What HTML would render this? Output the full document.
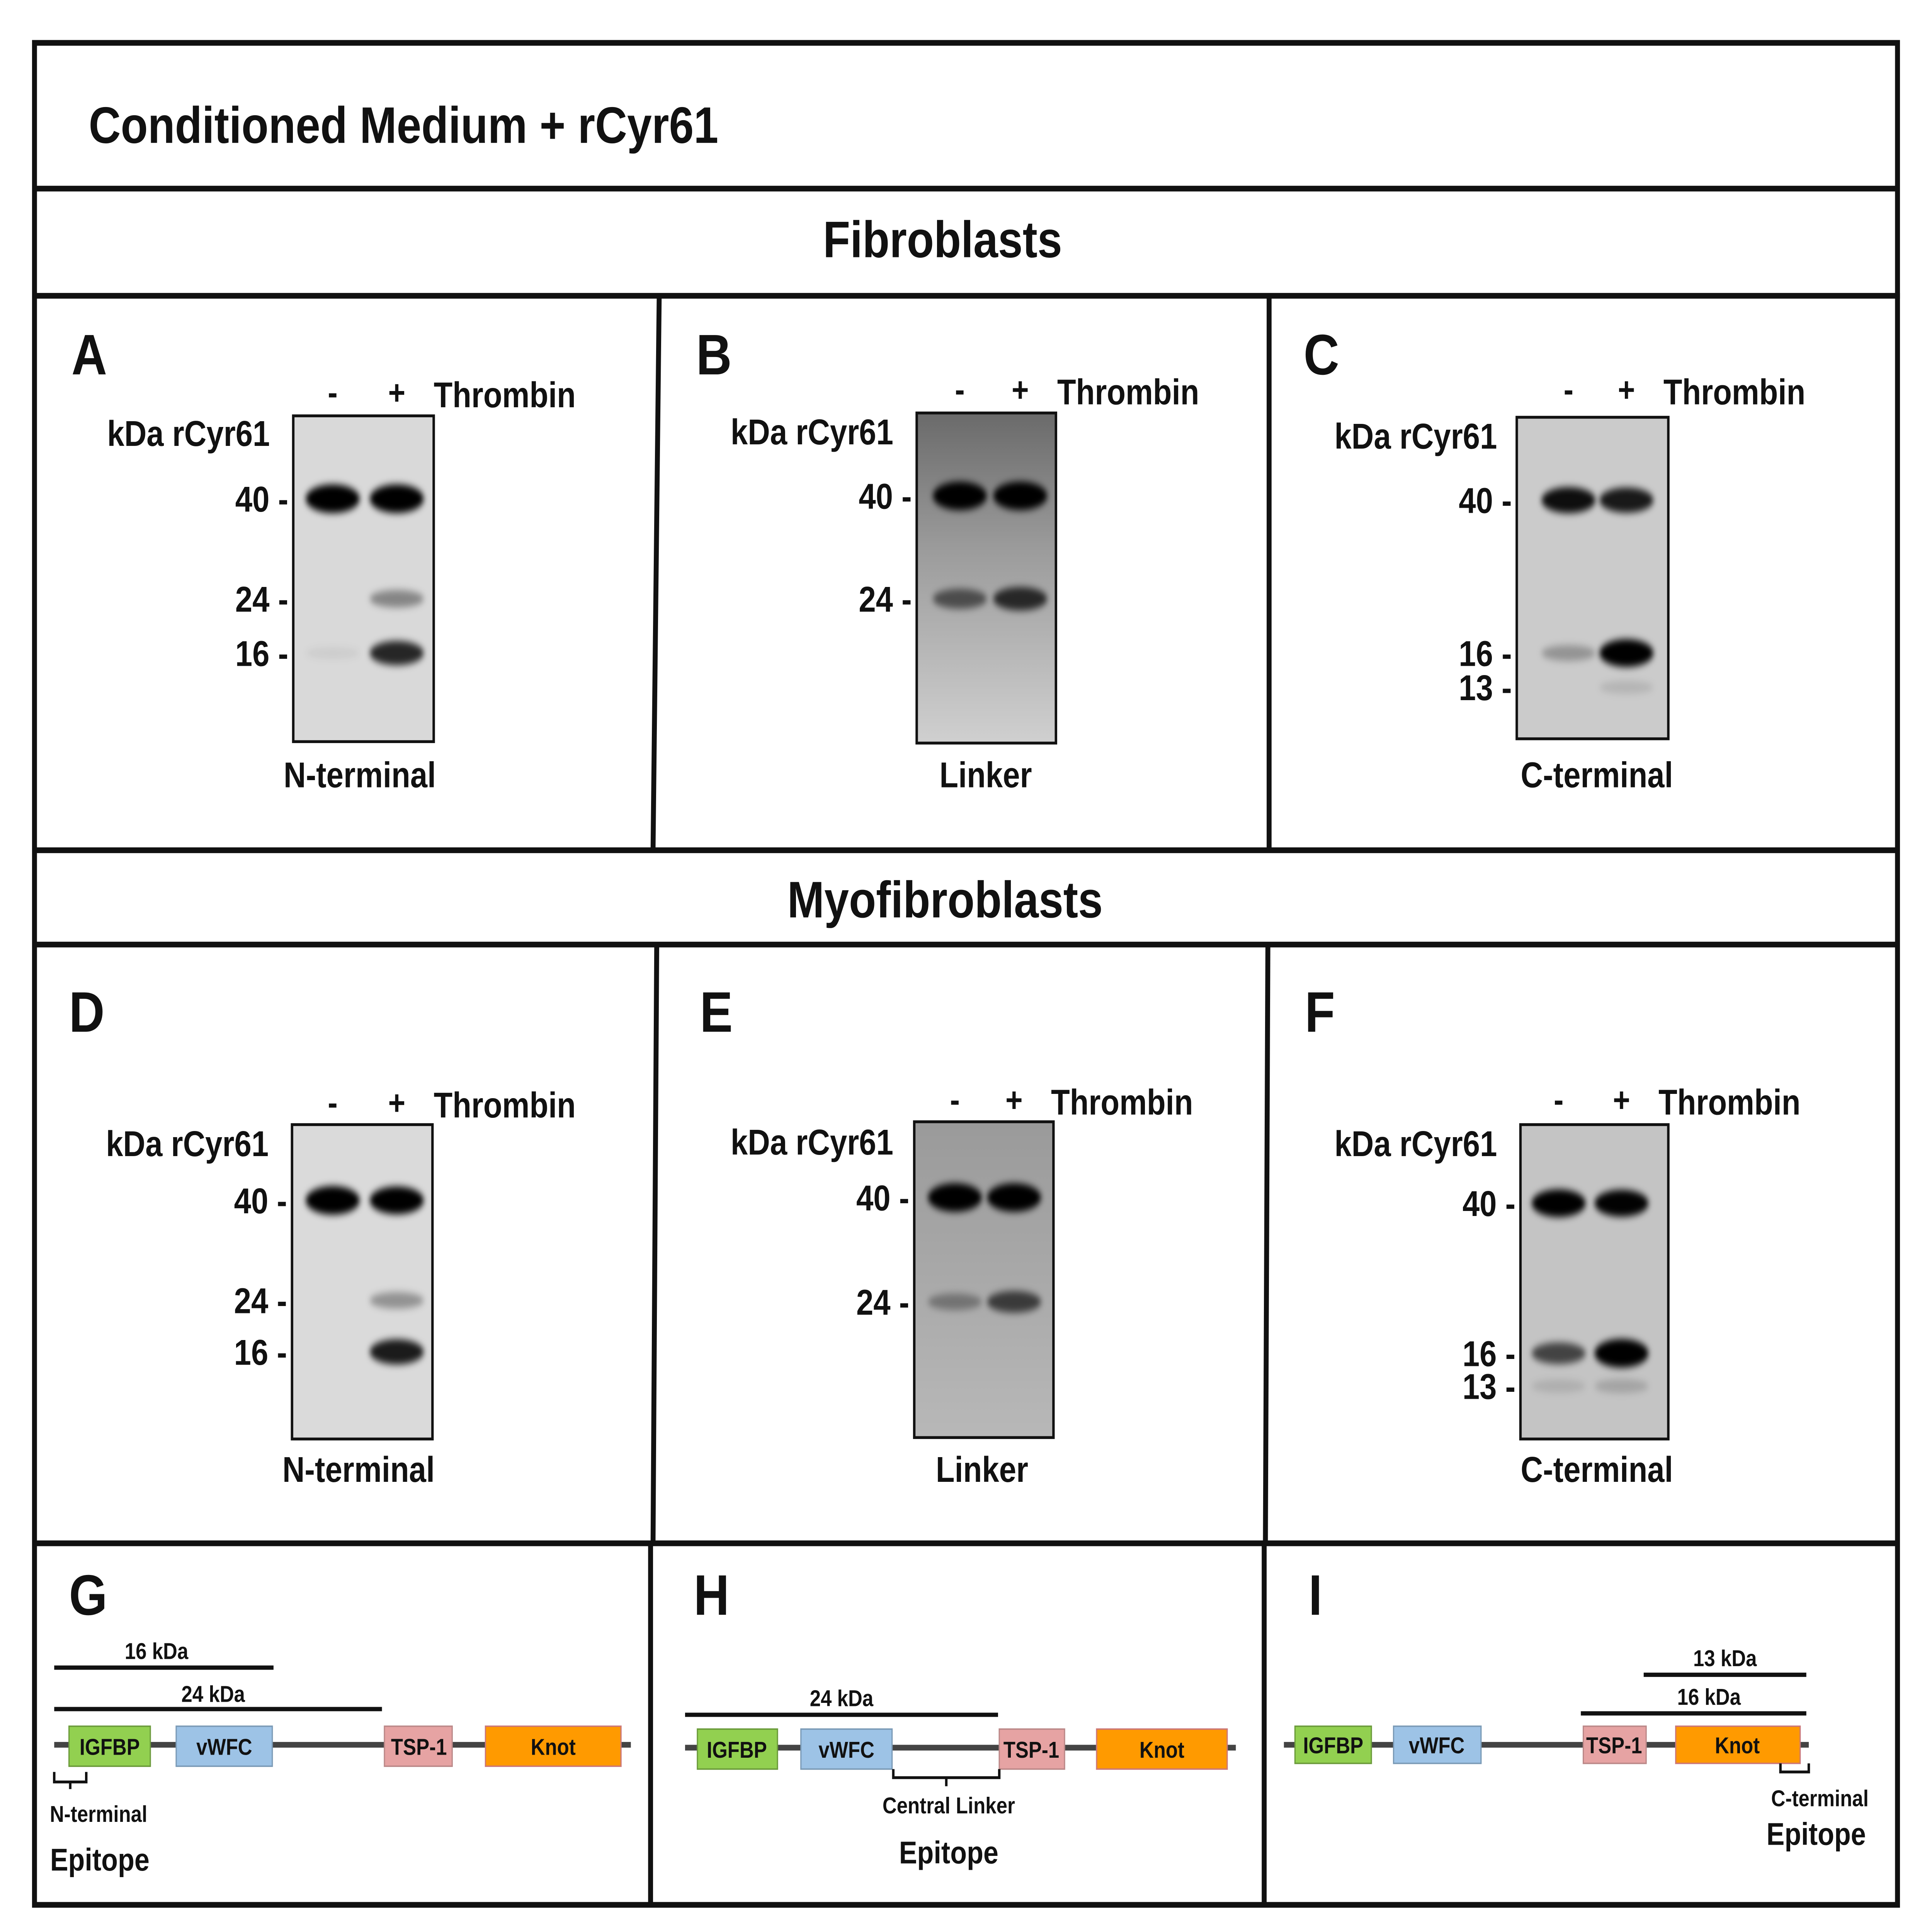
<!DOCTYPE html>
<html><head><meta charset="utf-8"><style>
html,body{margin:0;padding:0;background:#fff;overflow:hidden;width:100%;height:100%;}
svg{display:block;position:absolute;left:0;top:0;width:100vw;height:100vh;}
text{font-family:"Liberation Sans",sans-serif;font-weight:bold;fill:#111;}
</style></head><body>
<svg id="fig" viewBox="0 0 1568 1352" preserveAspectRatio="none" xmlns="http://www.w3.org/2000/svg">
<defs>
<filter id="blur" x="-50%" y="-200%" width="200%" height="500%"><feGaussianBlur stdDeviation="2.2 2.6"/></filter>
<linearGradient id="gelB" x1="0" y1="0" x2="0" y2="1"><stop offset="0" stop-color="#6a6a6a"/><stop offset="0.4" stop-color="#9a9a9a"/><stop offset="1" stop-color="#d0d0d0"/></linearGradient>
<linearGradient id="gelE" x1="0" y1="0" x2="0" y2="1"><stop offset="0" stop-color="#9a9a9a"/><stop offset="1" stop-color="#b8b8b8"/></linearGradient>
</defs>
<g fill="none" stroke="#111" stroke-width="4">
<rect x="28" y="30" width="1512" height="1303"/>
<line x1="28" y1="132" x2="1540" y2="132"/>
<line x1="28" y1="207" x2="1542" y2="207"/>
<line x1="28" y1="595" x2="1540" y2="595"/>
<line x1="28" y1="661" x2="1540" y2="661"/>
<line x1="28" y1="1080" x2="1540" y2="1080"/>
<line x1="535" y1="207" x2="530" y2="595"/>
<line x1="1030" y1="207" x2="1030" y2="595"/>
<line x1="533" y1="661" x2="530" y2="1080"/>
<line x1="1029" y1="661" x2="1027" y2="1080"/>
<line x1="528" y1="1080" x2="528" y2="1333"/>
<line x1="1026" y1="1080" x2="1026" y2="1333"/>
</g>
<text x="72" y="100" font-size="36">Conditioned Medium + rCyr61</text>
<text x="765" y="180" font-size="36" text-anchor="middle">Fibroblasts</text>
<text x="767" y="642" font-size="36" text-anchor="middle">Myofibroblasts</text>
<g id="blots"></g>
<g id="diagrams" font-size="16">
<g>
<text x="56" y="1130" font-size="40">G</text>
<line x1="44" y1="1221" x2="512" y2="1221" stroke="#444" stroke-width="4"/>
<rect x="56" y="1208" width="66" height="28" fill="#92d050" stroke="#6a9a3a"/><text x="89" y="1228" text-anchor="middle">IGFBP</text>
<rect x="143" y="1208" width="78" height="28" fill="#9dc3e6" stroke="#7a9ab6"/><text x="182" y="1228" text-anchor="middle">vWFC</text>
<rect x="312" y="1208" width="55" height="28" fill="#e6a3a3" stroke="#b88"/><text x="340" y="1228" text-anchor="middle">TSP-1</text>
<rect x="394" y="1208" width="110" height="28" fill="#ff9a00" stroke="#c77"/><text x="449" y="1228" text-anchor="middle">Knot</text>
<line x1="44" y1="1167" x2="222" y2="1167" stroke="#111" stroke-width="3"/><text x="127" y="1161" text-anchor="middle">16 kDa</text>
<line x1="44" y1="1196" x2="310" y2="1196" stroke="#111" stroke-width="3"/><text x="173" y="1191" text-anchor="middle">24 kDa</text>
<path d="M44 1240 V1247 H70 V1240 M57 1247 V1252" fill="none" stroke="#111" stroke-width="2"/>
<text x="80" y="1275" text-anchor="middle">N-terminal</text>
<text x="81" y="1309" font-size="22" text-anchor="middle">Epitope</text>
</g>
<g>
<text x="563" y="1130" font-size="40">H</text>
<line x1="556" y1="1223" x2="1003" y2="1223" stroke="#444" stroke-width="4"/>
<rect x="566" y="1210" width="65" height="28" fill="#92d050" stroke="#6a9a3a"/><text x="598" y="1230" text-anchor="middle">IGFBP</text>
<rect x="650" y="1210" width="74" height="28" fill="#9dc3e6" stroke="#7a9ab6"/><text x="687" y="1230" text-anchor="middle">vWFC</text>
<rect x="811" y="1210" width="53" height="28" fill="#e6a3a3" stroke="#b88"/><text x="837" y="1230" text-anchor="middle">TSP-1</text>
<rect x="890" y="1210" width="106" height="28" fill="#ff9a00" stroke="#c77"/><text x="943" y="1230" text-anchor="middle">Knot</text>
<line x1="556" y1="1200" x2="810" y2="1200" stroke="#111" stroke-width="3"/><text x="683" y="1194" text-anchor="middle">24 kDa</text>
<path d="M725 1238 V1244 H811 V1238 M768 1244 V1250" fill="none" stroke="#111" stroke-width="2"/>
<text x="770" y="1269" text-anchor="middle">Central Linker</text>
<text x="770" y="1304" font-size="22" text-anchor="middle">Epitope</text>
</g>
<g>
<text x="1062" y="1130" font-size="40">I</text>
<line x1="1042" y1="1221" x2="1468" y2="1221" stroke="#444" stroke-width="4"/>
<rect x="1051" y="1208" width="62" height="26" fill="#92d050" stroke="#6a9a3a"/><text x="1082" y="1227" text-anchor="middle">IGFBP</text>
<rect x="1131" y="1208" width="71" height="26" fill="#9dc3e6" stroke="#7a9ab6"/><text x="1166" y="1227" text-anchor="middle">vWFC</text>
<rect x="1285" y="1208" width="51" height="26" fill="#e6a3a3" stroke="#b88"/><text x="1310" y="1227" text-anchor="middle">TSP-1</text>
<rect x="1360" y="1208" width="101" height="26" fill="#ff9a00" stroke="#c77"/><text x="1410" y="1227" text-anchor="middle">Knot</text>
<line x1="1334" y1="1172" x2="1466" y2="1172" stroke="#111" stroke-width="3"/><text x="1400" y="1166" text-anchor="middle">13 kDa</text>
<line x1="1283" y1="1199" x2="1466" y2="1199" stroke="#111" stroke-width="3"/><text x="1387" y="1193" text-anchor="middle">16 kDa</text>
<path d="M1445 1234 V1240 H1468 V1234" fill="none" stroke="#111" stroke-width="2"/>
<text x="1477" y="1264" text-anchor="middle">C-terminal</text>
<text x="1474" y="1291" font-size="22" text-anchor="middle">Epitope</text>
</g>
</g>
</svg>
<script>
const panelLetters = ["A","B","C","D","E","F"];
const panelAntibody = ["N-terminal","Linker","C-terminal","N-terminal","Linker","C-terminal"];
const markersA = ["40","24","16"];
const markersB = ["40","24"];
const markersC = ["40","16","13"];
const bandsA = [[1.0,1.0],[0.0,0.35],[0.05,0.75]];
const bandsB = [[1.0,1.0],[0.5,0.7]];
const bandsC = [[0.85,0.8],[0.25,0.95],[0.0,0.1]];
const bandsD = [[1.0,0.95],[0.0,0.3],[0.0,0.8]];
const bandsE = [[1.0,1.0],[0.3,0.6]];
const bandsF = [[0.95,0.9],[0.6,1.0],[0.1,0.15]];
const markerSets = [markersA,markersB,markersC,markersA,markersB,markersC];
const bandSets = [bandsA,bandsB,bandsC,bandsD,bandsE,bandsF];
const L = [
 {lx:58,ly:262,gx:238,gy:291,gw:114,gh:228,lanes:[270,322],my:{"40":349,"24":419,"16":457},fill:"#d9d9d9",lbl:292,lblY:551,thY:283,kx:87,ky:312},
 {lx:565,ly:262,gx:744,gy:289,gw:113,gh:231,lanes:[779,828],my:{"40":347,"24":419},fill:"url(#gelB)",lbl:800,lblY:551,thY:281,kx:593,ky:311},
 {lx:1058,ly:262,gx:1231,gy:292,gw:123,gh:225,lanes:[1273,1320],my:{"40":350,"16":457,"13":481},fill:"#cbcbcb",lbl:1296,lblY:551,thY:281,kx:1083,ky:314},
 {lx:56,ly:722,gx:237,gy:787,gw:114,gh:220,lanes:[270,322],my:{"40":840,"24":910,"16":946},fill:"#dadada",lbl:291,lblY:1037,thY:780,kx:86,ky:809},
 {lx:568,ly:722,gx:742,gy:785,gw:113,gh:221,lanes:[775,823],my:{"40":838,"24":911},fill:"url(#gelE)",lbl:797,lblY:1037,thY:778,kx:593,ky:808},
 {lx:1059,ly:722,gx:1234,gy:787,gw:120,gh:220,lanes:[1265,1316],my:{"40":842,"16":947,"13":970},fill:"#c4c4c4",lbl:1296,lblY:1037,thY:778,kx:1083,ky:809}
];
const NS="http://www.w3.org/2000/svg";
const root=document.getElementById('blots');
function mk(tag,attrs,txt){const e=document.createElementNS(NS,tag);for(const k in attrs)e.setAttribute(k,attrs[k]);if(txt!==undefined)e.textContent=txt;return e;}
L.forEach((p,i)=>{
  const g=mk('g',{});
  
  
  root.appendChild(g);
  const letter=mk('text',{x:p.lx,y:p.ly,'font-size':40},panelLetters[i]);
  
  
  g.appendChild(letter);
  const gel=mk('rect',{x:p.gx,y:p.gy,width:p.gw,height:p.gh,fill:p.fill,stroke:'#111','stroke-width':2});
  
  
  g.appendChild(gel);
  const minus=mk('text',{x:p.lanes[0],y:p.thY,'font-size':24,'text-anchor':'middle'},'-');
  
  
  g.appendChild(minus);
  const plus=mk('text',{x:p.lanes[1],y:p.thY,'font-size':24,'text-anchor':'middle'},'+');
  
  
  g.appendChild(plus);
  const th=mk('text',{x:p.lanes[1]+30,y:p.thY+2,'font-size':25},'Thrombin');
  
  
  g.appendChild(th);
  const kd=mk('text',{x:p.kx,y:p.ky,'font-size':25},'kDa rCyr61');
  
  
  g.appendChild(kd);
  const ab=mk('text',{x:p.lbl,y:p.lblY,'font-size':25,'text-anchor':'middle'},panelAntibody[i]);
  
  
  g.appendChild(ab);
  markerSets[i].forEach((m,j)=>{
    const y=p.my[m];
    const t=mk('text',{x:p.gx-4,y:y+9,'font-size':25,'text-anchor':'end'},m+' -');
    
    
    g.appendChild(t);
    bandSets[i][j].forEach((v,k)=>{
      if(v<=0)return;
      const b=mk('ellipse',{cx:p.lanes[k],cy:y,rx:22,ry:4+6*v,fill:'#000','fill-opacity':Math.min(1,v*1.1),filter:'url(#blur)'});
      
      
      g.appendChild(b);
    });
  });
});
</script>
</body></html>
